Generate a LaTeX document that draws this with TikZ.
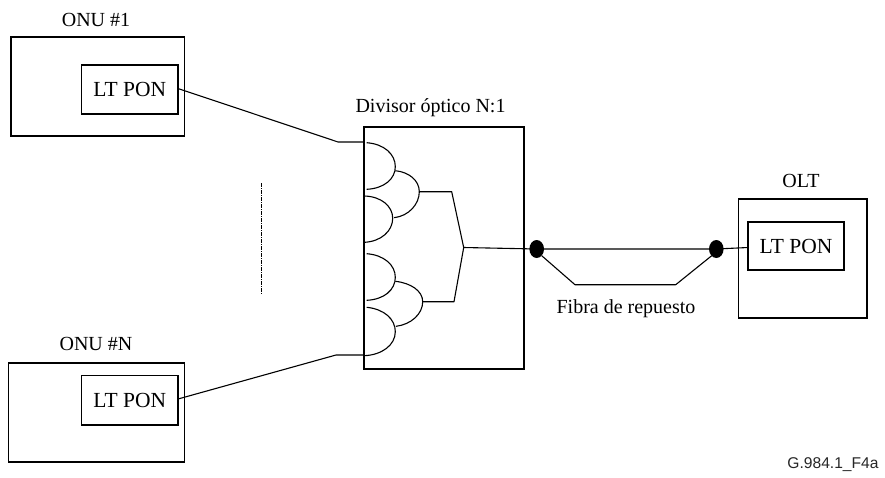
\documentclass[tikz,border=0pt]{standalone}
\usepackage{fontspec}
\setmainfont{Liberation Serif}
\newfontfamily\helv{Liberation Sans}
\tikzset{
  wire/.style={line width=1.1pt,line join=round},
  boxnode/.style={draw,line width=1.2pt,outer sep=0pt,inner sep=0pt,minimum width=#1},
  lbl/.style={inner sep=0pt,font=\fontsize{20}{24}\selectfont},
  ltxt/.style={inner sep=0pt,font=\fontsize{21.5}{24}\selectfont},
  dotn/.style={ellipse,fill=black,inner sep=0pt,minimum width=14.6pt,minimum height=18pt},
}
\usetikzlibrary{shapes.geometric}
\begin{document}
\begin{tikzpicture}[x=1pt,y=-1pt]
\useasboundingbox (0,0) rectangle (885,477);
% boxes
\node[boxnode=173.5pt,minimum height=99pt] (onu1) at (97.75,86.5) {};
\node[boxnode=96.5pt,minimum height=49pt,ltxt] (lt1) at (129.75,89.5) {LT PON};
\node[boxnode=176pt,minimum height=99pt] (onun) at (96.5,412.5) {};
\node[boxnode=96.5pt,minimum height=49.5pt,ltxt] (ltn) at (129.75,400.25) {LT PON};
\node[boxnode=160pt,minimum height=242pt] (div) at (444,248) {};
\node[boxnode=128.5pt,minimum height=119pt] (olt) at (802.75,258.5) {};
\node[boxnode=96pt,minimum height=48pt,ltxt] (lto) at (796,246) {LT PON};
% labels
\node[lbl] (t1) at (96,20) {ONU \#1};
\node[lbl] (tn) at (96,344) {ONU \#N};
\node[lbl] (td) at (430.5,108) {Divisor óptico N:1};
\node[lbl] (to) at (801,181) {OLT};
\node[lbl] (tf) at (626,309) {Fibra de repuesto};
\node[inner sep=0pt,font=\helv\fontsize{15.6}{18}\selectfont,text=black!85] (tg) at (833,465) {G.984.1\_F4a};
% splice dots
\node[dotn] (d1) at (536.7,249) {};
\node[dotn] (d2) at (716.3,249) {};
% named junctions
\coordinate (k1) at (338,142);
\coordinate (p1) at (364,142);
\coordinate (kn) at (336,355);
\coordinate (pn) at (364,355);
\coordinate (m) at (463.7,247.5);
% fibres
\draw[wire] (lt1.east |- 0,88.5) -- (k1) -- (p1);
\draw[wire] (ltn.east |- 0,399) -- (kn) -- (pn);
\draw[wire] (m) -- (d1.center) -- (d2.center) -- (lto.west |- 0,247.5);
\draw[wire] (541.7,255.7) -- (575,284.7) -- (675.7,284.7) -- (711.7,255.7);
% splitter arcs
\draw[wire] (366.7,142.7) .. controls (384,144) and (395.3,154) .. (395.3,166.7) .. controls (395.3,179) and (384,188.5) .. (366.7,189.3);
\draw[wire] (364.5,196) .. controls (381,196.5) and (392.7,206) .. (392.7,218.3) .. controls (392.7,231) and (381,241.5) .. (364.5,242.3);
\draw[wire] (395.3,170.7) .. controls (409,172) and (419.3,180.5) .. (419.3,191.7) .. controls (419.3,204) and (409,216) .. (394,217.7);
\draw[wire] (366.7,253.7) .. controls (384,255) and (395.3,265) .. (395.3,277.3) .. controls (395.3,290) and (384,299.5) .. (366.7,300.3);
\draw[wire] (366.7,307.3) .. controls (384,309) and (395.3,319) .. (395.3,331.7) .. controls (395.3,345) and (382,355) .. (364,355.7);
\draw[wire] (395.3,281.3) .. controls (411,283) and (422.7,291) .. (422.7,301.7) .. controls (422.7,314) and (411,324.5) .. (396,326.3);
\draw[wire] (419.3,191.7) -- (451.7,191.7) -- (m) -- (454,301.7) -- (422.7,301.7);
% dashed marker
\coordinate (da) at (261,183);
\coordinate (db) at (261,294);
\draw[line width=1pt,dash pattern=on 4pt off 1pt on 1pt off 1pt] (da) -- (db);
\end{tikzpicture}
\end{document}
